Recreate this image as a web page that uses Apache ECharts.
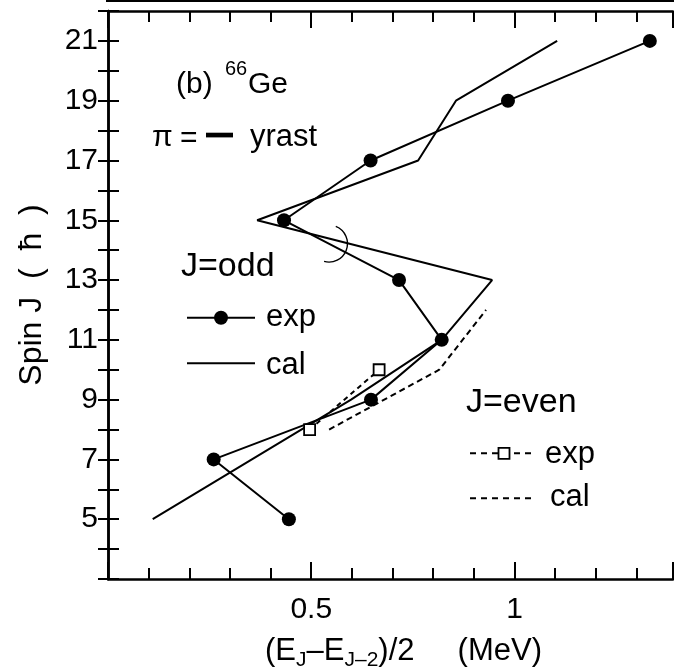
<!doctype html>
<html><head><meta charset="utf-8" />
<style>
  html,body,#app{margin:0;padding:0;width:674px;height:670px;background:#ffffff}
</style>
<script src="https://cdn.jsdelivr.net/npm/echarts@6.0.0/dist/echarts.min.js"></script>
</head><body><div id="app"></div>
<script>
// J = odd (yrast, negative parity)
const spinOdd = [5, 7, 9, 11, 13, 15, 17, 19, 21];
const expOddX = [0.445, 0.26, 0.647, 0.821, 0.716, 0.433, 0.646, 0.984, 1.333];
const calOddX = [0.11, 0.354, 0.598, 0.821, 0.945, 0.367, 0.763, 0.856, 1.105];
// J = even
const expEvenSpin = [8, 10];
const expEvenX = [0.496, 0.667];
const calEvenSpin = [8, 10, 12];
const calEvenX = [0.544, 0.815, 0.93];
// hand-drawn crossing mark (centre in data units)
const crossMark = [[0.5436, 14.22]];
// tick labels
const xLabelValues = [0.5, 1];
const yLabelValues = [5, 7, 9, 11, 13, 15, 17, 19, 21];

const X_MIN = 0, X_MAX = 1.39, Y_MIN = 3, Y_MAX = 22;
const FONT = "'Liberation Sans', Arial, Helvetica, sans-serif";

function pairs(xs, ys) { return xs.map((x, i) => [x, ys[i]]); }

const chart = echarts.init(document.getElementById('app'));

const gridRect = { left: 108, top: 11, right: 1, bottom: 91, outerBoundsMode: 'none' };
const frame = { color: '#000', width: 2.5 };
const tickStyle = { color: '#000', width: 2 };

function xAx(grid, pos, interval, len, extra) {
  return Object.assign({
    type: 'value', gridIndex: grid, position: pos, min: X_MIN, max: X_MAX, interval: interval,
    axisLine: { show: grid === 0, lineStyle: frame },
    axisTick: { show: true, inside: true, length: len, lineStyle: tickStyle },
    axisLabel: { show: false },
    splitLine: { show: false }
  }, extra || {});
}

const option = {
  backgroundColor: '#ffffff',
  animation: false,
  textStyle: { fontFamily: FONT, color: '#000' },
  grid: [Object.assign({}, gridRect), Object.assign({}, gridRect)],
  xAxis: [
    xAx(0, 'bottom', 0.5, 17, {
      axisLabel: {
        show: true, fontSize: 30, color: '#000', fontFamily: FONT, margin: 16,
        formatter: v => (xLabelValues.some(t => Math.abs(t - v) < 1e-6) ? String(v) : '')
      },
      name: '(E{s|J}–E{s|J–2})/2     (MeV)',
      nameLocation: 'middle', nameGap: 52,
      nameTextStyle: {
        fontSize: 31, color: '#000', fontFamily: FONT, lineHeight: 40, padding: [0, 0, 0, 26],
        rich: { s: { fontSize: 21, lineHeight: 40, verticalAlign: 'bottom', fontFamily: FONT, color: '#000' } }
      }
    }),
    xAx(0, 'top', 0.5, 17),
    xAx(1, 'bottom', 0.1, 11),
    xAx(1, 'top', 0.1, 11)
  ],
  yAxis: [
    {
      type: 'value', gridIndex: 0, position: 'left', min: Y_MIN, max: Y_MAX, interval: 1,
      axisLine: { show: true, lineStyle: frame },
      axisTick: { inside: true, length: 11, lineStyle: tickStyle },
      axisLabel: {
        fontSize: 30, color: '#000', fontFamily: FONT, margin: 10,
        formatter: v => (yLabelValues.indexOf(v) >= 0 ? String(v) : '')
      },
      splitLine: { show: false },
      name: 'Spin J  (  ħ  )', nameLocation: 'middle', nameGap: 60,
      nameTextStyle: { fontSize: 32, color: '#000', fontFamily: FONT }
    },
    {
      type: 'value', gridIndex: 0, position: 'right', min: Y_MIN, max: Y_MAX, interval: 1,
      axisLine: { show: true, lineStyle: frame },
      axisTick: { inside: true, length: 10, lineStyle: tickStyle },
      axisLabel: { show: false }, splitLine: { show: false }
    },
    { type: 'value', gridIndex: 1, min: Y_MIN, max: Y_MAX, show: false }
  ],
  series: [
    {
      name: 'cal odd', type: 'line', data: pairs(calOddX, spinOdd), symbol: 'none',
      lineStyle: { color: '#000', width: 2 }, z: 3
    },
    {
      name: 'exp odd', type: 'line', data: pairs(expOddX, spinOdd), symbol: 'circle', symbolSize: 14,
      itemStyle: { color: '#000' }, lineStyle: { color: '#000', width: 2 }, z: 4
    },
    {
      name: 'cal even', type: 'line', data: pairs(calEvenX, calEvenSpin), symbol: 'none',
      lineStyle: { color: '#000', width: 2, type: [6, 4] }, z: 3
    },
    {
      name: 'exp even', type: 'line', data: pairs(expEvenX, expEvenSpin), symbol: 'rect', symbolSize: 11,
      itemStyle: { color: '#fff', borderColor: '#000', borderWidth: 1.8 },
      lineStyle: { color: '#000', width: 2, type: [5, 4] }, z: 5
    },
    {
      name: 'cross', type: 'custom', data: crossMark, z: 5,
      renderItem: function (params, api) {
        const p = api.coord([api.value(0), api.value(1)]);
        return {
          type: 'arc',
          shape: { cx: p[0], cy: p[1], r: 18.5, startAngle: -68.4 * Math.PI / 180, endAngle: 105.4 * Math.PI / 180, clockwise: true },
          style: { stroke: '#000', fill: null, lineWidth: 1.4 }
        };
      }
    }
  ],
  graphic: [
    // bottom edge of the panel above
    { type: 'line', shape: { x1: 106, y1: 1, x2: 674, y2: 1 }, style: { stroke: '#000', lineWidth: 2 } },
    // (b) 66Ge
    { type: 'text', x: 176, y: 84.6, style: { text: '(b)', font: '30px ' + FONT, fill: '#000', verticalAlign: 'middle' } },
    { type: 'text', x: 225, y: 69.8, style: { text: '66', font: '20px ' + FONT, fill: '#000', verticalAlign: 'middle' } },
    { type: 'text', x: 248, y: 84.6, style: { text: 'Ge', font: '30px ' + FONT, fill: '#000', verticalAlign: 'middle' } },
    // π = — yrast
    { type: 'text', x: 152, y: 137.9, style: { text: 'π', font: '30px ' + FONT, fill: '#000', verticalAlign: 'middle' } },
    { type: 'text', x: 180, y: 139, style: { text: '=', font: '30px ' + FONT, fill: '#000', verticalAlign: 'middle' } },
    { type: 'rect', shape: { x: 206, y: 132.7, width: 27, height: 4.7 }, style: { fill: '#000' } },
    { type: 'text', x: 250, y: 137.9, style: { text: 'yrast', font: '31px ' + FONT, fill: '#000', verticalAlign: 'middle' } },
    // J = odd legend
    { type: 'text', x: 181, y: 266.5, style: { text: 'J=odd', font: '34px ' + FONT, fill: '#000', verticalAlign: 'middle' } },
    { type: 'line', shape: { x1: 187, y1: 317.7, x2: 255, y2: 317.7 }, style: { stroke: '#000', lineWidth: 2 } },
    { type: 'circle', shape: { cx: 221, cy: 317.7, r: 7 }, style: { fill: '#000' } },
    { type: 'text', x: 266, y: 317.6, style: { text: 'exp', font: '31px ' + FONT, fill: '#000', verticalAlign: 'middle' } },
    { type: 'line', shape: { x1: 187, y1: 363.3, x2: 255, y2: 363.3 }, style: { stroke: '#000', lineWidth: 2 } },
    { type: 'text', x: 266, y: 365.3, style: { text: 'cal', font: '31px ' + FONT, fill: '#000', verticalAlign: 'middle' } },
    // J = even legend
    { type: 'text', x: 466, y: 402.2, style: { text: 'J=even', font: '34px ' + FONT, fill: '#000', verticalAlign: 'middle' } },
    { type: 'line', shape: { x1: 470, y1: 453.3, x2: 533, y2: 453.3 }, style: { stroke: '#000', lineWidth: 2, lineDash: [6, 5] } },
    { type: 'rect', shape: { x: 498.5, y: 447.8, width: 11, height: 11 }, style: { fill: '#fff', stroke: '#000', lineWidth: 1.8 } },
    { type: 'text', x: 545, y: 454.3, style: { text: 'exp', font: '31px ' + FONT, fill: '#000', verticalAlign: 'middle' } },
    { type: 'line', shape: { x1: 470, y1: 498.3, x2: 533, y2: 498.3 }, style: { stroke: '#000', lineWidth: 2, lineDash: [6, 5] } },
    { type: 'text', x: 550, y: 497.6, style: { text: 'cal', font: '31px ' + FONT, fill: '#000', verticalAlign: 'middle' } }
  ]
};

chart.setOption(option);
window.chartReady = true;
</script></body></html>
